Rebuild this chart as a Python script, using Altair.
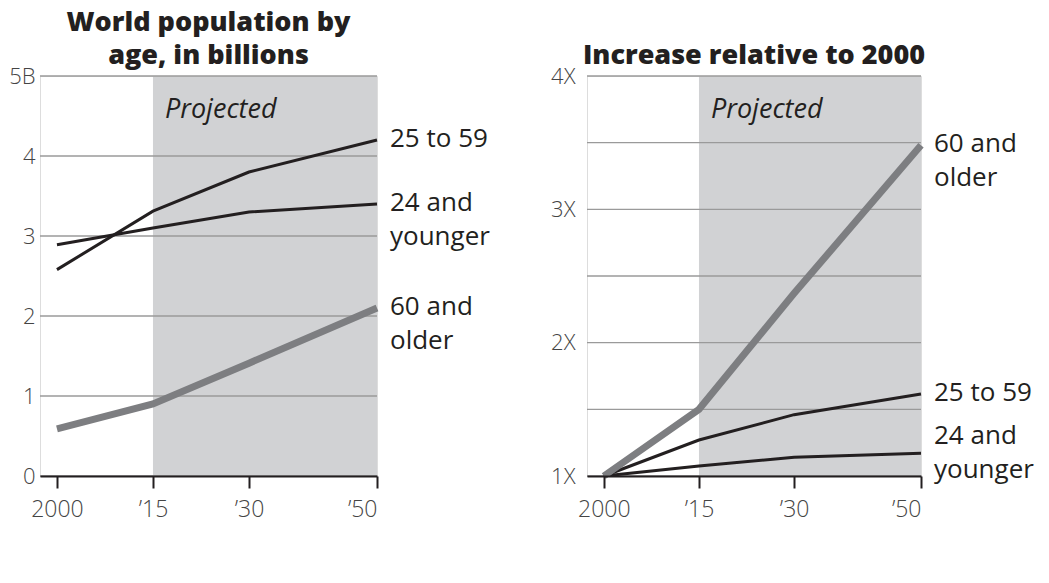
import altair as alt
import pandas as pd

years = [2000, 2015, 2030, 2050]
groups = ["24 and younger", "25 to 59", "60 and older"]
group_labels = ["24 and\nyounger", "25 to 59", "60 and\nolder"]

# World population by age, billions
pop_young = [2.89, 3.10, 3.30, 3.40]
pop_mid = [2.58, 3.31, 3.80, 4.20]
pop_old = [0.59, 0.90, 1.41, 2.10]

# Increase relative to 2000
rel_young = [1.0, 1.075, 1.14, 1.17]
rel_mid = [1.0, 1.27, 1.46, 1.615]
rel_old = [1.0, 1.50, 2.37, 3.48]

left_ticks = [0, 1, 2, 3, 4, 5]
right_grid = [1, 1.5, 2, 2.5, 3, 3.5, 4]
right_ticks = [1, 2, 3, 4]
projected = [2015, 2050]
x_domain = [1997.35, 2050]

FONT = "Open Sans"
DARK = "#231f20"
GRAY_LINE = "#7d7e81"
SHADE = "#d1d2d4"
GRID = "#9a9a9a"


def long_df(series):
    rows = []
    for g, lab, vals in zip(groups, group_labels, series):
        for y, v in zip(years, vals):
            rows.append({"year": y, "value": v, "group": g, "label": lab})
    return pd.DataFrame(rows)


def panel(df, y_domain, grid_vals, tick_vals, label_expr, title_lines, shade_top,
          shade_bottom, proj_y, label_shift, width, ypad):
    xscale = alt.Scale(domain=x_domain, nice=False, zero=False)
    x = alt.X("year:Q", scale=xscale,
              axis=alt.Axis(values=years, title=None, grid=False,
                            labelExpr="datum.value == 2000 ? '2000' : '\u2019' + substring(toString(datum.value), 2, 4)",
                            labelFont=FONT, labelFontSize=23, labelFontWeight=300,
                            labelColor="#444", labelPadding=10,
                            tickSize=12, tickWidth=2, tickColor=DARK,
                            domainColor=DARK, domainWidth=2, zindex=1))
    yscale = alt.Scale(domain=y_domain, nice=False, zero=False)
    y = alt.Y("value:Q", scale=yscale,
              axis=alt.Axis(values=tick_vals, title=None, grid=False, domain=False,
                            ticks=False, labelExpr=label_expr, labelFont=FONT,
                            labelFontSize=22, labelFontWeight=300, labelColor="#444",
                            labelPadding=ypad, labelBaseline="middle"))

    shade_df = pd.DataFrame({"start": [projected[0]], "end": [projected[1]],
                             "top": [shade_top], "bottom": [shade_bottom]})
    shade = alt.Chart(shade_df).mark_rect(color=SHADE).encode(
        x=alt.X("start:Q", scale=xscale), x2="end:Q",
        y=alt.Y("top:Q", scale=yscale), y2="bottom:Q",
    )
    grid = alt.Chart(pd.DataFrame({"g": grid_vals})).mark_rule(
        color=GRID, strokeWidth=1.3).encode(y=alt.Y("g:Q", scale=yscale))

    proj = alt.Chart(pd.DataFrame({"year": [projected[0]], "value": [proj_y],
                                   "t": ["Projected"]})).mark_text(
        font=FONT, fontSize=27, fontStyle="italic", color=DARK, align="left",
        baseline="alphabetic", dx=12).encode(
        x=alt.X("year:Q", scale=xscale),
        y=alt.Y("value:Q", scale=yscale), text="t:N")

    black = df[df["group"] != groups[2]]
    gray = df[df["group"] == groups[2]]
    lines_black = alt.Chart(black).mark_line(
        color=DARK, strokeWidth=3, strokeCap="butt", strokeJoin="miter").encode(
        x=x, y=y, detail="group:N")
    lines_gray = alt.Chart(gray).mark_line(
        color=GRAY_LINE, strokeWidth=7, strokeCap="butt", strokeJoin="miter").encode(
        x=alt.X("year:Q", scale=xscale), y=alt.Y("value:Q", scale=yscale))

    last = df[df["year"] == years[-1]]
    layers = [shade, grid, proj, lines_black, lines_gray]
    for g in groups:
        sub = last[last["group"] == g]
        layers.append(alt.Chart(sub).mark_text(
            font=FONT, fontSize=26, color=DARK, align="left", baseline="alphabetic",
            lineBreak="\n", lineHeight=34, dx=13, dy=label_shift.get(g, 7)).encode(
            x=alt.X("year:Q", scale=xscale),
            y=alt.Y("value:Q", scale=yscale), text="label:N"))

    return alt.layer(*layers).properties(
        width=width, height=400,
        title=alt.TitleParams(text=title_lines, font=FONT, fontSize=27, fontWeight=800,
                              color=DARK, anchor="middle", lineHeight=33, offset=-5),
    )


left = panel(long_df([pop_young, pop_mid, pop_old]), [0, 5], left_ticks, left_ticks,
             "datum.value == 5 ? '5B' : toString(datum.value)",
             ["World population by", "age, in billions"], 5, 0, 4.48, {}, 337, 5)
right = panel(long_df([rel_young, rel_mid, rel_old]), [1, 4], right_grid, right_ticks,
              "toString(datum.value) + 'X'",
              ["Increase relative to 2000"], 4, 1, 3.685, {"24 and younger": -9}, 334, 12)

chart = alt.hconcat(left, right, spacing=59).properties(padding=0).configure_view(
    stroke=None).configure(background="white")

chart.save("out.html", embed_options={"renderer": "svg", "actions": False})
